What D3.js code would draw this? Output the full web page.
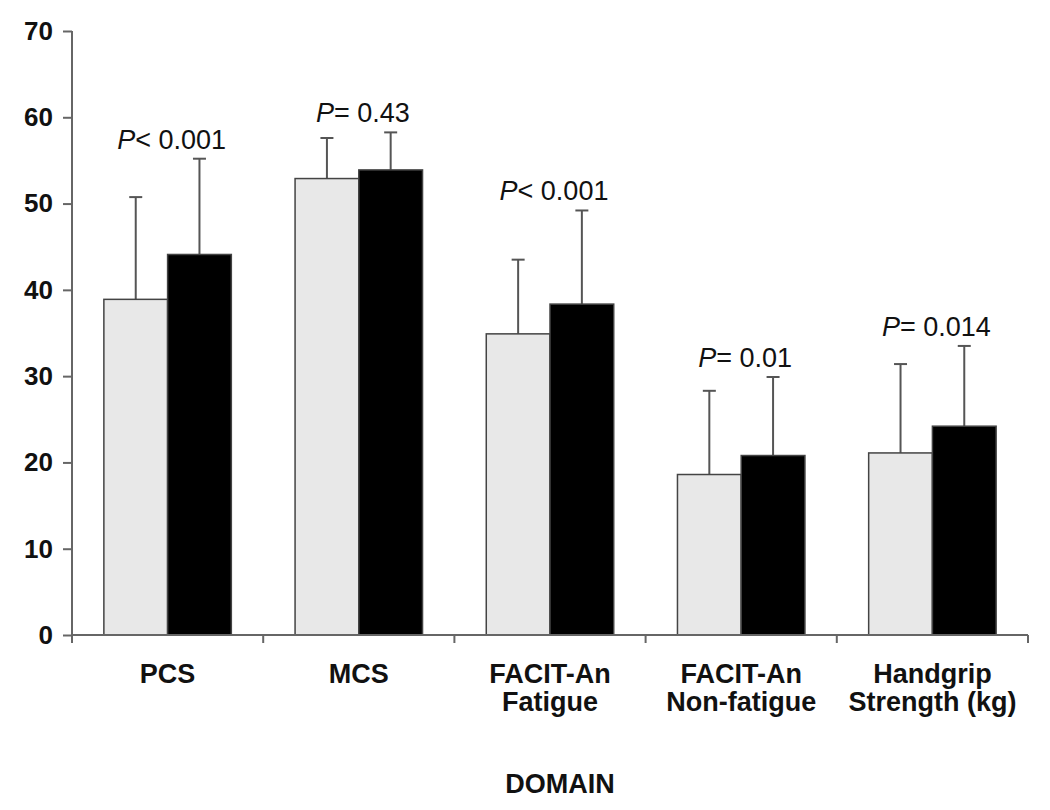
<!DOCTYPE html>
<html>
<head>
<meta charset="utf-8">
<script src="https://cdn.jsdelivr.net/npm/d3@7"></script>
<style>
  html, body { margin: 0; padding: 0; background: #fff; }
  svg { display: block; font-family: "Liberation Sans", Arial, sans-serif; }
</style>
</head>
<body>
<svg id="chart" width="1050" height="810"></svg>
<script>
// ---- data ----
const categories = ["PCS", "MCS", "FACIT-An Fatigue", "FACIT-An Non-fatigue", "Handgrip Strength (kg)"];
const categoryLines = [["PCS"], ["MCS"], ["FACIT-An", "Fatigue"], ["FACIT-An", "Non-fatigue"], ["Handgrip", "Strength (kg)"]];
const seriesNames = ["light", "dark"];
const lightMeans = [38.9, 52.9, 34.9, 18.6, 21.1];
const lightUpper = [50.75, 57.6, 43.5, 28.3, 31.4];
const darkMeans  = [44.1, 53.9, 38.35, 20.8, 24.2];
const darkUpper  = [55.2, 58.25, 49.2, 29.9, 33.5];
const pLabelPrefix = ["P", "P", "P", "P", "P"];
const pLabelRest = ["< 0.001", "= 0.43", "< 0.001", "= 0.01", "= 0.014"];
const yTicks = [0, 10, 20, 30, 40, 50, 60, 70];
const xTitle = "DOMAIN";

// ---- layout ----
const svg = d3.select("#chart");
const plotLeft = 72, plotRight = 1028, plotTop = 31, plotBottom = 635;

const x = d3.scaleBand().domain(categories).range([plotLeft, plotRight]).paddingInner(0).paddingOuter(0);
const xs = d3.scaleBand().domain(seriesNames).range([0, x.bandwidth()]).paddingInner(0).paddingOuter(0.5);
const y = d3.scaleLinear().domain([0, 70]).range([plotBottom, plotTop]);

const fills = { light: "#e8e8e8", dark: "#000000" };
const rows = [];
categories.forEach((c, i) => {
  rows.push({ cat: c, s: "light", v: lightMeans[i], up: lightUpper[i] });
  rows.push({ cat: c, s: "dark", v: darkMeans[i], up: darkUpper[i] });
});

// error bars (behind bars)
const eb = svg.append("g").attr("stroke", "#555").attr("stroke-width", 2);
rows.forEach(d => {
  const cx = x(d.cat) + xs(d.s) + xs.bandwidth() / 2;
  eb.append("line").attr("x1", cx).attr("x2", cx).attr("y1", y(d.v)).attr("y2", y(d.up));
  eb.append("line").attr("x1", cx - 6.5).attr("x2", cx + 6.5).attr("y1", y(d.up)).attr("y2", y(d.up));
});

// bars
svg.append("g").selectAll("rect").data(rows).join("rect")
  .attr("x", d => x(d.cat) + xs(d.s))
  .attr("width", xs.bandwidth())
  .attr("y", d => y(d.v))
  .attr("height", d => y(0) - y(d.v))
  .attr("fill", d => fills[d.s])
  .attr("stroke", "#444")
  .attr("stroke-width", 1.5);

// y axis
const yAxis = svg.append("g").attr("transform", `translate(${plotLeft},0)`)
  .call(d3.axisLeft(y).tickValues(yTicks).tickSize(9).tickPadding(10).tickFormat(d3.format("d")));
yAxis.select(".domain").attr("stroke", "#666").attr("stroke-width", 2).attr("d", `M0,${plotBottom}V${plotTop}`);
yAxis.selectAll(".tick line").attr("stroke", "#666").attr("stroke-width", 2);
yAxis.selectAll(".tick text").attr("font-size", 26).attr("font-weight", "bold").attr("fill", "#111")
  .attr("font-family", "'Liberation Sans', Arial, sans-serif");

// x axis line + boundary ticks
const xAxis = svg.append("g");
xAxis.append("line").attr("x1", plotLeft).attr("x2", plotRight).attr("y1", plotBottom).attr("y2", plotBottom)
  .attr("stroke", "#666").attr("stroke-width", 2);
const bounds = categories.map(c => x(c)).concat([x(categories[categories.length - 1]) + x.bandwidth()]);
xAxis.selectAll("line.tk").data(bounds).join("line").attr("class", "tk")
  .attr("x1", d => d).attr("x2", d => d).attr("y1", plotBottom).attr("y2", plotBottom + 8)
  .attr("stroke", "#666").attr("stroke-width", 2);

// category labels
categories.forEach((c, i) => {
  const cx = x(c) + x.bandwidth() / 2;
  const t = svg.append("text")
    .attr("x", cx)
    .attr("y", 683)
    .attr("text-anchor", "middle")
    .attr("font-size", 27)
    .attr("font-weight", "bold")
    .attr("fill", "#111");
  categoryLines[i].forEach((ln, j) => {
    t.append("tspan").attr("x", cx).attr("dy", j === 0 ? 0 : 28).text(ln);
  });
});

// x title
svg.append("text").attr("x", (plotLeft + plotRight) / 2 + 10).attr("y", 793)
  .attr("text-anchor", "middle").attr("font-size", 27).attr("font-weight", "bold")
  .attr("fill", "#111").text(xTitle);

// p-value labels
categories.forEach((c, i) => {
  const topY = Math.min(y(lightUpper[i]), y(darkUpper[i]));
  const t = svg.append("text")
    .attr("x", x(c) + x.bandwidth() / 2 + 4)
    .attr("y", topY - 10)
    .attr("text-anchor", "middle")
    .attr("font-size", 27)
    .attr("fill", "#111");
  t.append("tspan").attr("font-style", "italic").text(pLabelPrefix[i]);
  t.append("tspan").text(pLabelRest[i]);
});
</script>
</body>
</html>
